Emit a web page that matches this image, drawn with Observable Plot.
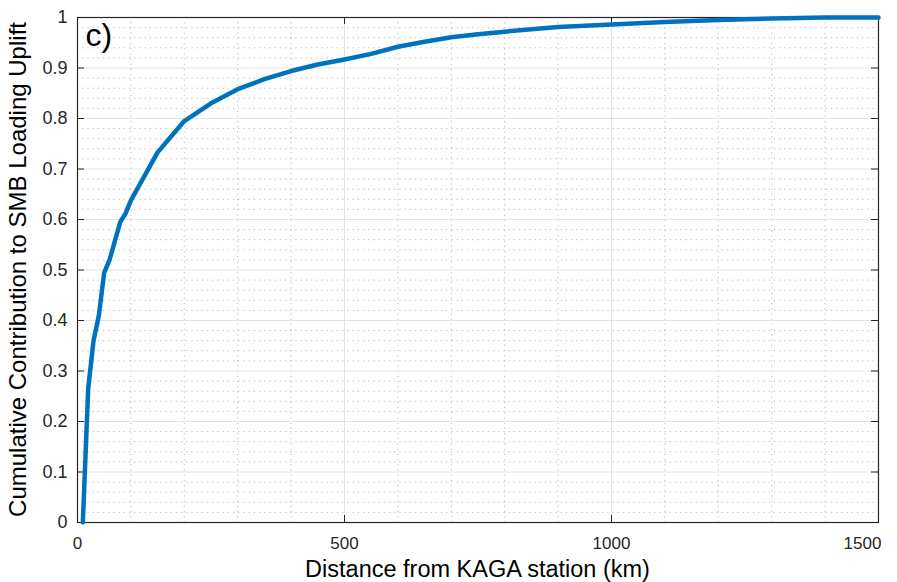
<!DOCTYPE html>
<html><head><meta charset="utf-8">
<script src="https://cdn.jsdelivr.net/npm/d3@7"></script>
<script src="https://cdn.jsdelivr.net/npm/@observablehq/plot@0.6"></script>
<style>body{margin:0;background:#fff;font-family:"Liberation Sans",Arial,sans-serif;}</style>
</head><body><div id="chart"></div>
<script>
const distanceKm = [10, 20, 30, 40, 50, 60, 80, 90, 100, 150, 200, 250, 300, 350, 400, 450, 500, 550, 600, 650, 700, 750, 800, 900, 1000, 1100, 1200, 1300, 1400, 1500];
const cumulative = [0, 0.265, 0.36, 0.41, 0.495, 0.52, 0.595, 0.612, 0.638, 0.733, 0.795, 0.83, 0.858, 0.878, 0.894, 0.907, 0.917, 0.928, 0.942, 0.952, 0.961, 0.967, 0.972, 0.981, 0.986, 0.991, 0.995, 0.998, 1.0, 1.0];
const xTicks = [0, 500, 1000, 1500];
const yTicks = [0, 0.1, 0.2, 0.3, 0.4, 0.5, 0.6, 0.7, 0.8, 0.9, 1];
const xMinor = d3.range(100, 1500, 100).filter(v => v % 500 !== 0);
const yMinor = d3.range(1, 50).map(i => i * 0.02).filter((v, i) => (i + 1) % 5 !== 0);
const panelLabel = "c)";

const data = distanceKm.map((d, i) => ({d, v: cumulative[i]}));
const W = 897, H = 582, mL = 77, mR = 19, mT = 17, mB = 60;
const tickPx = 7;
const xPerPx = 1500 / (W - mL - mR), yPerPx = 1 / (H - mT - mB);
const ink = "#262626";

const plot = Plot.plot({
  width: W, height: H,
  marginLeft: mL, marginRight: mR, marginTop: mT, marginBottom: mB,
  style: {fontFamily: '"Liberation Sans", Arial, sans-serif', color: ink, background: "#fff"},
  x: {domain: [0, 1500], axis: null},
  y: {domain: [0, 1], axis: null},
  marks: [
    Plot.ruleX(xMinor, {stroke: "#b8b8b8", strokeDasharray: "1.2,4", strokeWidth: 1}),
    Plot.ruleY(yMinor, {stroke: "#b8b8b8", strokeDasharray: "1.2,4", strokeWidth: 1}),
    Plot.ruleX(xTicks, {stroke: "#e3e3e3", strokeWidth: 1}),
    Plot.ruleY(yTicks, {stroke: "#e3e3e3", strokeWidth: 1}),
    Plot.ruleX(xTicks, {y1: 0, y2: tickPx * yPerPx, stroke: ink}),
    Plot.ruleX(xTicks, {y1: 1, y2: 1 - tickPx * yPerPx, stroke: ink}),
    Plot.ruleY(yTicks, {x1: 0, x2: tickPx * xPerPx, stroke: ink}),
    Plot.ruleY(yTicks, {x1: 1500, x2: 1500 - tickPx * xPerPx, stroke: ink}),
    Plot.frame({stroke: ink, strokeWidth: 1.2}),
    Plot.line(data, {x: "d", y: "v", stroke: "#0072BD", strokeWidth: 4.5, strokeLinejoin: "round"}),
    Plot.text(xTicks.slice(0, -1), {x: d => d, frameAnchor: "bottom", dy: 26, fontSize: 17, fill: ink, text: d => String(d)}),
    Plot.text(xTicks.slice(-1), {x: d => d, frameAnchor: "bottom", dy: 26, dx: -16, fontSize: 17, fill: ink, text: d => String(d)}),
    Plot.text(yTicks, {y: d => d, frameAnchor: "left", dx: -10, textAnchor: "end", fontSize: 18, fill: ink, text: d => String(+d.toFixed(1))}),
    Plot.text([panelLabel], {frameAnchor: "top-left", text: d => d, dx: 8, dy: 6, fontSize: 32, fill: "#000", textAnchor: "start", lineAnchor: "top"})
  ]
});
document.getElementById("chart").append(plot);
const svg = d3.select(plot);
svg.append("text")
  .attr("x", (mL + W - mR) / 2).attr("y", 577)
  .attr("text-anchor", "middle")
  .attr("font-size", 23.5).attr("fill", "#000")
  .text("Distance from KAGA station (km)");
svg.append("text")
  .attr("transform", `translate(${20},${(mT + H - mB) / 2}) rotate(-90)`)
  .attr("text-anchor", "middle").attr("dominant-baseline", "middle")
  .attr("font-size", 24).attr("fill", "#000")
  .text("Cumulative Contribution to SMB Loading Uplift");
</script></body></html>
